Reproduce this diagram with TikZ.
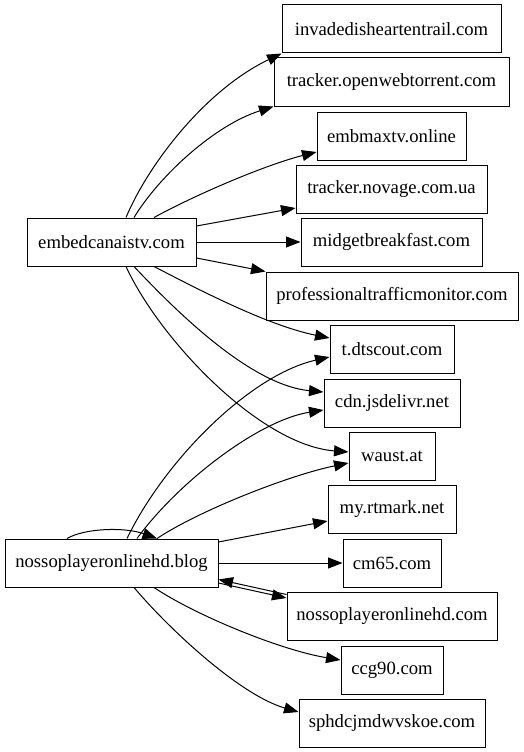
\documentclass[tikz,border=0pt]{standalone}
\usepackage{fontspec}
\setmainfont{Liberation Serif}
\usetikzlibrary{arrows.meta}
\begin{document}
\begin{tikzpicture}[x=1pt,y=-1pt,
  box/.style={draw, line width=1pt, inner sep=0pt, minimum height=48pt,
    font=\fontsize{18.67}{22}\selectfont},
  edge/.style={line width=1pt, -{Triangle[length=14.5pt,width=11pt]}}]
\fill[white] (0,0) rectangle (524,752);
\useasboundingbox (0,0) rectangle (524,752);
% targets
\node[box, minimum width=219pt] (inv) at (391.5,29) {invadedisheartentrail.com};
\node[box, minimum width=235pt] (otw) at (391.5,82) {tracker.openwebtorrent.com};
\node[box, minimum width=149pt] (emb) at (391.5,136) {embmaxtv.online};
\node[box, minimum width=191pt] (nov) at (391.5,189) {tracker.novage.com.ua};
\node[box, minimum width=181pt] (mid) at (391.5,242) {midgetbreakfast.com};
\node[box, minimum width=252pt] (ptm) at (392,296) {professionaltrafficmonitor.com};
\node[box, minimum width=124pt] (dts) at (392,349) {t.dtscout.com};
\node[box, minimum width=136pt] (cdn) at (392,403) {cdn.jsdelivr.net};
\node[box, minimum width=86pt] (wau) at (392,456) {waust.at};
\node[box, minimum width=128pt] (rtm) at (392,509.5) {my.rtmark.net};
\node[box, minimum width=98pt] (cm) at (392,563) {cm65.com};
\node[box, minimum width=210pt] (nph) at (392,616) {nossoplayeronlinehd.com};
\node[box, minimum width=102pt] (ccg) at (392,670) {ccg90.com};
\node[box, minimum width=186pt] (sph) at (392,723) {sphdcjmdwvskoe.com};
% sources
\node[box, minimum width=169pt] (E) at (111.5,242) {embedcanaistv.com};
\node[box, minimum width=213pt] (N) at (111.5,563) {nossoplayeronlinehd.blog};
% edges from embedcanaistv.com
\draw[edge] ([xshift=14.5pt]E.north) .. controls (148,165) and (205,90) .. (inv.south west);
\draw[edge] ([xshift=22.5pt]E.north) .. controls (160,175) and (215,125) .. (otw.south west);
\draw[edge] ([xshift=42.5pt]E.north) .. controls (195,195) and (265,165) .. ([yshift=-16pt]emb.west);
\draw[edge] ([yshift=16pt]E.east) -- ([yshift=-19pt]nov.west);
\draw[edge] (E.east) -- (mid.west);
\draw[edge] ([yshift=-16pt]E.east) -- (ptm.north west);
\draw[edge] ([xshift=42.5pt]E.south) .. controls (190,285) and (265,325) .. ([yshift=11pt]dts.west);
\draw[edge] ([xshift=22.5pt]E.south) .. controls (175,310) and (250,385) .. ([yshift=11pt]cdn.west);
\draw[edge] ([xshift=14.5pt]E.south) .. controls (160,340) and (260,445) .. ([yshift=4pt]wau.west);
% edges from nossoplayeronlinehd.blog
\draw[edge] ([xshift=15.5pt]N.north) .. controls (165,460) and (250,375) .. ([yshift=-8pt]dts.west);
\draw[edge] ([xshift=25.5pt]N.north) .. controls (180,480) and (260,420) .. ([yshift=-7pt]cdn.west);
\draw[edge] ([xshift=45.5pt]N.north) .. controls (200,510) and (290,475) .. ([yshift=-7pt]wau.west);
\draw[edge] ([xshift=-44.5pt]N.north) .. controls (85,528) and (125,527) .. ([xshift=45.5pt]N.north);
\draw[edge] ([yshift=21pt]N.east) -- ([yshift=-11.5pt]rtm.west);
\draw[edge] (N.east) -- (cm.west);
\draw[edge] ([yshift=-20pt]N.east) -- ([yshift=18pt]nph.west);
\draw[edge] ([yshift=21.5pt]nph.west) -- ([yshift=-16.5pt]N.east);
\draw[edge] ([xshift=42.5pt]N.south) .. controls (195,615) and (280,650) .. ([yshift=10pt]ccg.west);
\draw[edge] ([xshift=22.5pt]N.south) .. controls (170,630) and (240,695) .. ([yshift=11pt]sph.west);
\end{tikzpicture}
\end{document}
